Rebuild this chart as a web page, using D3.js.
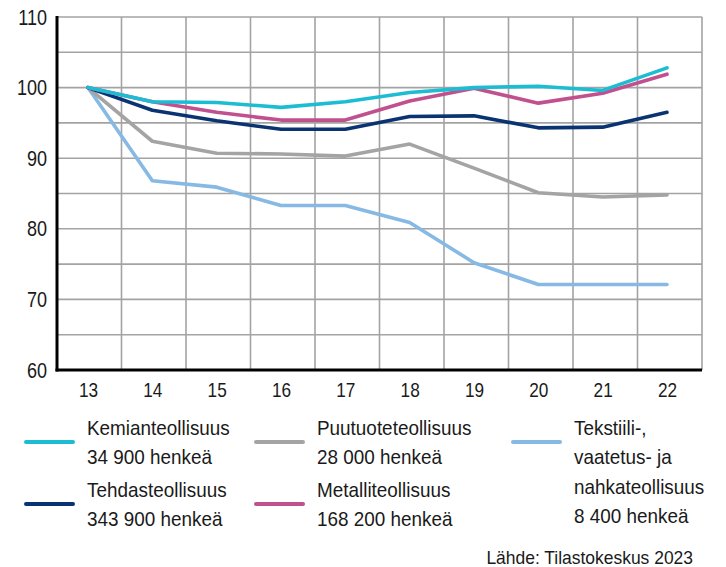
<!DOCTYPE html>
<html>
<head>
<meta charset="utf-8">
<script src="https://cdn.jsdelivr.net/npm/d3@7"></script>
<style>
  html, body { margin: 0; padding: 0; background: #ffffff; }
  svg { display: block; }
  text { font-family: "Liberation Sans", Arial, sans-serif; fill: #1a1a1a; }
</style>
</head>
<body>
<svg id="chart" width="726" height="567"></svg>
<script>
// ---- data ----
const years = ["13", "14", "15", "16", "17", "18", "19", "20", "21", "22"];
const yTicks = [60, 70, 80, 90, 100, 110];
const yGrid = [60, 65, 70, 75, 80, 85, 90, 95, 100, 105, 110];

const kemia    = [100, 98.0, 97.9, 97.2, 98.0, 99.3, 100.0, 100.2, 99.6, 102.8];
const tehdas   = [100, 96.8, 95.3, 94.1, 94.1, 95.9, 96.0, 94.3, 94.4, 96.5];
const puutuote = [100, 92.4, 90.7, 90.6, 90.3, 92.0, 88.6, 85.1, 84.5, 84.8];
const metalli  = [100, 98.0, 96.5, 95.4, 95.4, 98.1, 99.9, 97.8, 99.2, 101.9];
const tekstiili= [100, 86.8, 85.9, 83.3, 83.3, 80.9, 75.2, 72.1, 72.1, 72.1];

const seriesNames = ["Kemianteollisuus", "Tehdasteollisuus", "Puutuoteteollisuus", "Metalliteollisuus", "Tekstiili-, vaatetus- ja nahkateollisuus"];
const legendLabels = [
  ["Kemianteollisuus", "34 900 henkeä"],
  ["Tehdasteollisuus", "343 900 henkeä"],
  ["Puutuoteteollisuus", "28 000 henkeä"],
  ["Metalliteollisuus", "168 200 henkeä"],
  ["Tekstiili-,", "vaatetus- ja", "nahkateollisuus", "8 400 henkeä"]
];
const colors = ["#1cbdd3", "#0a3372", "#a6a3a3", "#c1508f", "#86b9e4"];
const source = "Lähde: Tilastokeskus 2023";

const seriesValues = [kemia, tehdas, puutuote, metalli, tekstiili];
// draw order (back to front)
const drawOrder = [4, 2, 1, 3, 0];

// ---- layout ----
const svg = d3.select("#chart");
const mLeft = 57, mRight = 702, mTop = 17, mBottom = 370;
const axisSX = 0.82, legendSX = 0.9;

const xBand = d3.scaleBand().domain(years).range([mLeft, mRight]);
const x = d3.scalePoint().domain(years).range([88, 667]);
const y = d3.scaleLinear().domain([60, 110]).range([mBottom, mTop]);

// grid
const grid = svg.append("g");
grid.selectAll("line.h").data(yGrid).join("line")
  .attr("x1", mLeft).attr("x2", mRight)
  .attr("y1", d => y(d)).attr("y2", d => y(d))
  .attr("stroke", "#a3a3a3").attr("stroke-width", 1.6);
grid.selectAll("line.v").data(years.slice(1)).join("line")
  .attr("x1", d => xBand(d)).attr("x2", d => xBand(d))
  .attr("y1", mTop).attr("y2", mBottom)
  .attr("stroke", "#a3a3a3").attr("stroke-width", 1.6);
grid.append("line")
  .attr("x1", mRight).attr("x2", mRight).attr("y1", mTop).attr("y2", mBottom)
  .attr("stroke", "#a3a3a3").attr("stroke-width", 1.6);

// y axis
const yAxis = svg.append("g").attr("transform", `translate(${mLeft},0)`)
  .call(d3.axisLeft(y).tickValues(yTicks).tickSize(0).tickPadding(10).tickFormat(d3.format("d")));
yAxis.select(".domain").attr("stroke", "#000").attr("stroke-width", 3).attr("d", `M0,${mTop - 1}V${mBottom + 1.5}`);
yAxis.selectAll("text").attr("font-size", 22).attr("fill", "#1a1a1a")
  .attr("x", -10 / axisSX).attr("transform", `scale(${axisSX},1)`);

// x axis
const xAxis = svg.append("g").attr("transform", `translate(0,${mBottom})`)
  .call(d3.axisBottom(x).tickSize(0).tickPadding(10));
xAxis.select(".domain").attr("stroke", "#000").attr("stroke-width", 3).attr("d", `M${mLeft - 1.5},0H${mRight}`);
xAxis.selectAll("text").attr("font-size", 21).attr("fill", "#1a1a1a").attr("dy", "0.82em")
  .attr("transform", `scale(${axisSX},1)`);

// lines
const line = d3.line().x((d, i) => x(years[i])).y(d => y(d));
svg.append("g").selectAll("path").data(drawOrder).join("path")
  .attr("d", i => line(seriesValues[i]))
  .attr("fill", "none")
  .attr("stroke", i => colors[i])
  .attr("stroke-width", 3.6)
  .attr("stroke-linejoin", "round")
  .attr("stroke-linecap", "round");

// legend
const colX = [26, 256, 513];
const rowY = [442, 504];
const legendPos = [[0, 0], [0, 1], [1, 0], [1, 1], [2, 0]];
const lg = svg.append("g");
legendLabels.forEach((lines, i) => {
  const [c, r] = legendPos[i];
  const lx = colX[c], ly = rowY[r];
  lg.append("line")
    .attr("x1", lx).attr("x2", lx + 47).attr("y1", ly).attr("y2", ly)
    .attr("stroke", colors[i]).attr("stroke-width", 4).attr("stroke-linecap", "round");
  const t = lg.append("text")
    .attr("transform", `translate(${lx + 61},${ly - 7}) scale(${legendSX},1)`)
    .attr("font-size", 21);
  lines.forEach((s, k) => {
    t.append("tspan").attr("x", 0).attr("dy", k === 0 ? 0 : 29.5).text(s);
  });
});

// source
svg.append("text")
  .attr("transform", `translate(693,564) scale(0.97,1)`)
  .attr("text-anchor", "end")
  .attr("font-size", 18).text(source);
</script>
</body>
</html>
